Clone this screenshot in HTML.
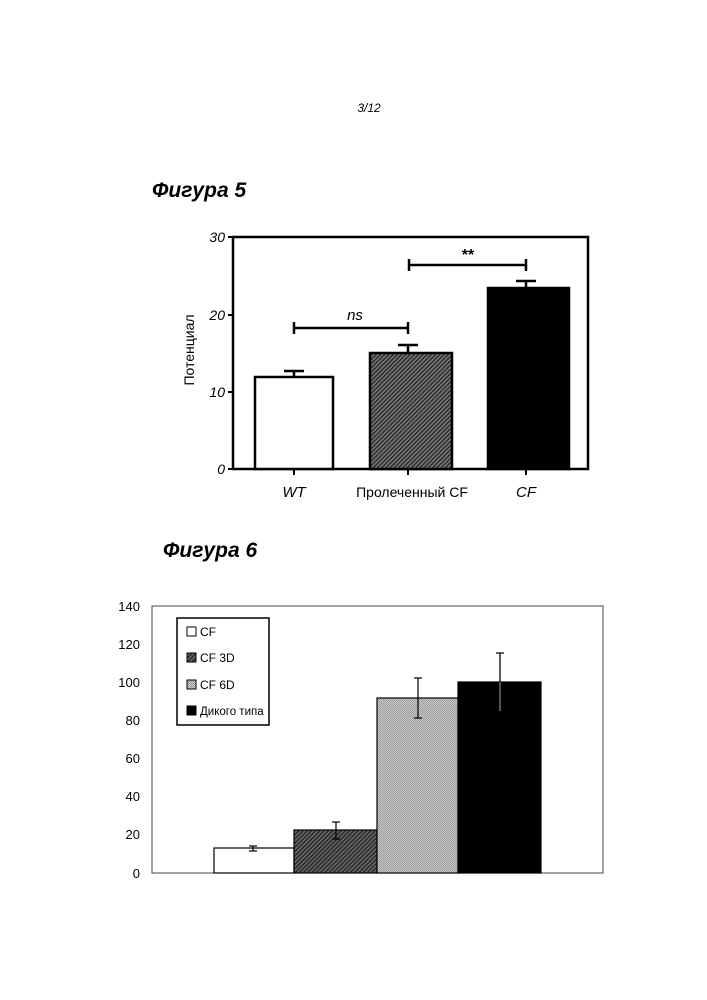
<!DOCTYPE html>
<html><head><meta charset="utf-8"><style>body{margin:0;background:#fff}svg{display:block}</style></head><body>
<svg width="707" height="1000" xmlns="http://www.w3.org/2000/svg" font-family="Liberation Sans, sans-serif">
<defs>
<pattern id="h1" width="3" height="3" patternUnits="userSpaceOnUse" patternTransform="rotate(45)"><rect width="3" height="3" fill="#777"/><rect width="1.3" height="3" fill="#222"/></pattern>
<pattern id="h2" width="3" height="3" patternUnits="userSpaceOnUse" patternTransform="rotate(45)"><rect width="3" height="3" fill="#666"/><rect width="1.3" height="3" fill="#222"/></pattern>
<pattern id="h3" width="2" height="2" patternUnits="userSpaceOnUse"><rect width="2" height="2" fill="#ccc"/><rect width="1" height="1" fill="#999"/><rect x="1" y="1" width="1" height="1" fill="#999"/></pattern>
</defs>
<text x="369" y="112" font-size="12" font-style="italic" text-anchor="middle">3/12</text>
<text x="152" y="197" font-size="21" font-weight="bold" font-style="italic">Фигура 5</text>
<text x="163" y="557" font-size="21" font-weight="bold" font-style="italic">Фигура 6</text>
<!-- chart 1 -->
<rect x="233" y="237" width="355" height="232" fill="none" stroke="#000" stroke-width="2.5"/>
<g stroke="#000" stroke-width="2"><line x1="228" y1="237" x2="233" y2="237"/><line x1="228" y1="315" x2="233" y2="315"/><line x1="228" y1="392" x2="233" y2="392"/><line x1="228" y1="469" x2="233" y2="469"/>
<line x1="294" y1="469" x2="294" y2="475"/><line x1="408" y1="469" x2="408" y2="475"/><line x1="526" y1="469" x2="526" y2="475"/></g>
<g font-size="14" font-style="italic" text-anchor="end"><text x="225" y="242">30</text><text x="225" y="320">20</text><text x="225" y="397">10</text><text x="225" y="474">0</text></g>
<text transform="translate(194,350) rotate(-90)" font-size="14" text-anchor="middle">Потенциал</text>
<g stroke="#000" stroke-width="2.5">
<rect x="255" y="377" width="78" height="92" fill="#fff"/>
<rect x="370" y="353" width="82" height="116" fill="url(#h1)"/>
<rect x="488" y="288" width="81" height="181" fill="#000"/>
<line x1="294" y1="377" x2="294" y2="371"/><line x1="284" y1="371" x2="304" y2="371"/>
<line x1="408" y1="353" x2="408" y2="345"/><line x1="398" y1="345" x2="418" y2="345"/>
<line x1="526" y1="288" x2="526" y2="281"/><line x1="516" y1="281" x2="536" y2="281"/>
<line x1="294" y1="328" x2="408" y2="328"/><line x1="294" y1="322" x2="294" y2="334"/><line x1="408" y1="322" x2="408" y2="334"/>
<line x1="409" y1="265" x2="526" y2="265"/><line x1="409" y1="259" x2="409" y2="271"/><line x1="526" y1="259" x2="526" y2="271"/>
</g>
<text x="355" y="320" font-size="15" font-style="italic" text-anchor="middle">ns</text>
<text x="468" y="260" font-size="16" font-weight="bold" text-anchor="middle">**</text>
<text x="294" y="497" font-size="15" font-style="italic" text-anchor="middle">WT</text>
<text x="412" y="497" font-size="14" text-anchor="middle">Пролеченный CF</text>
<text x="526" y="497" font-size="15" font-style="italic" text-anchor="middle">CF</text>
<!-- chart 2 -->
<rect x="152" y="606" width="451" height="267" fill="none" stroke="#444" stroke-width="1"/>
<g font-size="13" text-anchor="end"><text x="140" y="611">140</text><text x="140" y="649">120</text><text x="140" y="687">100</text><text x="140" y="725">80</text><text x="140" y="763">60</text><text x="140" y="801">40</text><text x="140" y="839">20</text><text x="140" y="878">0</text></g>
<g stroke="#000" stroke-width="1.2">
<rect x="214" y="848" width="80" height="25" fill="#fff"/>
<rect x="294" y="830" width="83" height="43" fill="url(#h2)"/>
<rect x="377" y="698" width="81" height="175" fill="url(#h3)"/>
<rect x="458" y="682" width="83" height="191" fill="#000"/>
<line x1="253" y1="846" x2="253" y2="851"/><line x1="249" y1="846" x2="257" y2="846"/><line x1="249" y1="851" x2="257" y2="851"/>
<line x1="336" y1="822" x2="336" y2="839"/><line x1="332" y1="822" x2="340" y2="822"/><line x1="332" y1="839" x2="340" y2="839"/>
<line x1="418" y1="678" x2="418" y2="718"/><line x1="414" y1="678" x2="422" y2="678"/><line x1="414" y1="718" x2="422" y2="718"/>
<line x1="500" y1="653" x2="500" y2="711" stroke="#888"/><line x1="500" y1="653" x2="500" y2="682"/><line x1="496" y1="653" x2="504" y2="653"/>
</g>
<rect x="177" y="618" width="92" height="107" fill="#fff" stroke="#000" stroke-width="1.5"/>
<g stroke="#000" stroke-width="1"><rect x="187" y="627" width="9" height="9" fill="#fff"/><rect x="187" y="653" width="9" height="9" fill="url(#h2)"/><rect x="187" y="680" width="9" height="9" fill="url(#h3)"/><rect x="187" y="706" width="9" height="9" fill="#000"/></g>
<g font-size="12"><text x="200" y="636">CF</text><text x="200" y="662">CF 3D</text><text x="200" y="689">CF 6D</text><text x="200" y="715" font-size="11.5">Дикого типа</text></g>
</svg>
</body></html>
